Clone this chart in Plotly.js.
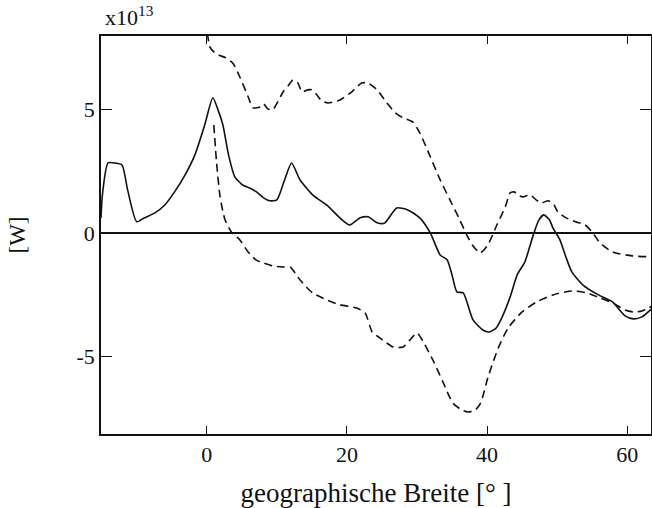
<!DOCTYPE html>
<html>
<head>
<meta charset="utf-8">
<script src="https://cdn.plot.ly/plotly-3.0.1.min.js"></script>
<style>html,body{margin:0;padding:0;background:#fff;}#chart{width:652px;height:508px;}</style>
</head>
<body>
<div id="chart"></div>
<script>
// Values in units of 1e13 W
const solidLat = [-15.1,-14.9,-14.1,-13.1,-12.1,-11.3,-10.0,-8.9,-7.4,-6.0,-4.6,-3.1,-1.7,-0.3,0.86,1.6,2.3,3.1,4.0,5.1,6.1,7.1,8.1,9.0,10.0,11.0,12.1,13.3,15.1,17.1,19.3,20.4,21.9,23.0,24.4,25.4,27.1,28.7,30.4,31.9,33.3,34.3,35.0,35.7,36.6,38.0,39.4,40.3,41.3,42.1,43.3,44.3,45.4,46.6,47.4,48.1,48.9,49.4,50.4,51.3,52.1,53.7,55.9,57.9,59.7,60.9,62.1,63.6];
const solidVal = [0.6,1.54,2.83,2.83,2.75,1.74,0.45,0.61,0.81,1.13,1.66,2.35,3.16,4.37,5.47,4.98,4.37,3.16,2.27,1.94,1.82,1.66,1.42,1.30,1.34,2.06,2.83,2.15,1.54,1.13,0.53,0.32,0.61,0.65,0.40,0.40,1.01,0.93,0.61,0.0,-0.89,-1.09,-1.70,-2.39,-2.43,-3.52,-3.93,-4.01,-3.85,-3.44,-2.59,-1.70,-1.17,-0.08,0.53,0.73,0.53,0.2,-0.28,-1.01,-1.58,-2.11,-2.51,-2.79,-3.36,-3.48,-3.40,-3.04];

const upperLat = [-0.1,0.14,0.43,1.0,1.6,2.7,3.7,4.7,5.9,6.6,7.6,8.1,8.7,9.4,10.9,11.6,12.3,13.0,13.6,14.4,15.0,15.7,16.4,17.3,19.0,20.7,22.1,23.0,24.3,25.7,26.9,28.0,29.4,30.4,31.9,33.3,34.7,36.1,37.1,37.9,39.0,40.1,41.4,42.6,43.3,43.9,44.3,45.1,46.1,47.0,47.7,48.7,49.4,50.1,51.3,52.6,54.0,55.1,56.1,57.9,60.7,63.6];
const upperVal = [8.6,7.98,7.53,7.33,7.21,7.09,6.88,6.32,5.51,5.06,5.10,5.22,5.02,4.98,5.71,5.95,6.19,6.07,5.71,5.79,5.79,5.59,5.34,5.26,5.38,5.71,6.07,6.07,5.79,5.26,4.86,4.66,4.49,4.05,3.08,2.15,1.34,0.53,-0.08,-0.49,-0.81,-0.49,0.32,1.05,1.62,1.66,1.54,1.46,1.54,1.34,1.21,1.30,1.21,0.85,0.61,0.45,0.32,0.0,-0.40,-0.77,-0.93,-0.97];

const lowerLat = [1.0,1.4,1.9,2.6,3.6,4.7,5.9,7.0,8.0,9.4,10.9,11.9,13.3,15.1,17.1,19.0,21.4,22.6,23.6,24.7,26.6,28.0,29.0,30.0,30.9,32.4,33.7,35.1,36.4,37.3,38.3,39.1,40.1,41.6,43.0,45.0,47.1,49.4,52.1,54.3,56.1,57.9,59.7,60.9,62.1,63.6];
const lowerVal = [4.37,2.83,1.46,0.53,0.0,-0.28,-0.77,-1.09,-1.21,-1.34,-1.38,-1.38,-1.90,-2.43,-2.71,-2.91,-3.04,-3.24,-4.01,-4.25,-4.62,-4.62,-4.33,-4.05,-4.41,-5.22,-6.03,-6.88,-7.17,-7.25,-7.17,-6.88,-5.87,-4.66,-3.85,-3.20,-2.79,-2.51,-2.35,-2.43,-2.63,-2.83,-3.12,-3.20,-3.16,-2.96];

const xTicks = [0, 20, 40, 60];
const yTicks = [-5, 0, 5];

const font = "Liberation Serif";
const lineStyle = {color: '#111', width: 1.6};
const traces = [
  {x: solidLat, y: solidVal, mode: 'lines', line: Object.assign({}, lineStyle, {shape: 'spline', smoothing: 0.6}), name: 'solid'},
  {x: upperLat, y: upperVal, mode: 'lines', line: Object.assign({}, lineStyle, {dash: '8px,5px', shape: 'spline', smoothing: 0.6}), name: 'upper'},
  {x: lowerLat, y: lowerVal, mode: 'lines', line: Object.assign({}, lineStyle, {dash: '8px,5px', shape: 'spline', smoothing: 0.6}), name: 'lower'}
];

const layout = {
  width: 652, height: 508,
  margin: {l: 101, r: 1, t: 36, b: 74},
  paper_bgcolor: '#fff', plot_bgcolor: '#fff',
  showlegend: false,
  font: {family: font, color: '#111', size: 22},
  xaxis: {
    range: [-15.1, 63.4],
    tickvals: xTicks, ticktext: xTicks.map(String),
    ticks: 'inside', ticklen: 8, tickwidth: 1, tickcolor: '#111',
    showline: true, linecolor: '#111', linewidth: 1.8, mirror: 'ticks',
    showgrid: false, zeroline: false,
    tickfont: {family: font, size: 22},
    title: {text: 'geographische Breite [° ]', font: {family: font, size: 27}, standoff: 19}
  },
  yaxis: {
    range: [-8.14, 7.97],
    tickvals: yTicks, ticktext: yTicks.map(String),
    ticks: 'inside', ticklen: 11, tickwidth: 1, tickcolor: '#111',
    showline: true, linecolor: '#111', linewidth: 1.8, mirror: 'ticks',
    showgrid: false, zeroline: true, zerolinecolor: '#111', zerolinewidth: 1.6,
    tickfont: {family: font, size: 22},
    title: {text: '[W]', font: {family: font, size: 23}, standoff: 44}
  },
  annotations: [
    {text: 'x10<sup>13</sup>', xref: 'paper', yref: 'paper', x: 0, y: 1, xanchor: 'left', yanchor: 'bottom', xshift: 2, yshift: 4, showarrow: false, font: {family: font, size: 22, color: '#111'}}
  ]
};

Plotly.newPlot('chart', traces, layout, {displayModeBar: false, staticPlot: true});
</script>
</body>
</html>
